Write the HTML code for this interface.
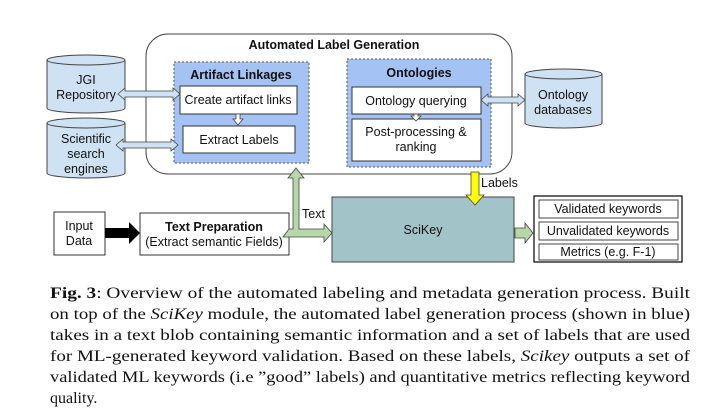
<!DOCTYPE html>
<html><head><meta charset="utf-8"><style>
html,body{margin:0;padding:0;background:#fff;}
svg{display:block;}
.s{font-family:"Liberation Sans",sans-serif;font-size:12.5px;fill:#111;}
.b{font-weight:bold;}
.c{font-family:"Liberation Serif",serif;font-size:16px;fill:#111;}
</style></head><body>
<svg width="702" height="419" viewBox="0 0 702 419" xmlns="http://www.w3.org/2000/svg">
<defs>
<marker id="n" markerWidth="1" markerHeight="1"></marker>
</defs>
<!-- big container -->
<rect x="146" y="34" width="366" height="140" rx="22" fill="#fff" stroke="#444" stroke-width="1"/>
<text x="334" y="49" text-anchor="middle" class="s b">Automated Label Generation</text>
<!-- Artifact Linkages -->
<rect x="174" y="62" width="135" height="101" fill="#a4c2f4" stroke="#555" stroke-dasharray="2,2"/>
<text x="241" y="79" text-anchor="middle" class="s b">Artifact Linkages</text>
<rect x="180" y="86" width="117" height="28" fill="#fff" stroke="#333"/>
<text x="238" y="104" text-anchor="middle" class="s">Create artifact links</text>
<rect x="183" y="126" width="112" height="27" fill="#fff" stroke="#333"/>
<text x="239" y="144" text-anchor="middle" class="s">Extract Labels</text>
<path d="M236 114 h4 v5 h3 l-5 6 l-5 -6 h3z" fill="#fff" stroke="#444" stroke-width="0.8"/>
<!-- Ontologies -->
<rect x="347" y="59" width="144" height="108" fill="#a4c2f4" stroke="#555" stroke-dasharray="2,2"/>
<text x="419" y="77" text-anchor="middle" class="s b">Ontologies</text>
<rect x="352" y="87" width="129" height="27" fill="#fff" stroke="#333"/>
<text x="416" y="105" text-anchor="middle" class="s">Ontology querying</text>
<rect x="352" y="119" width="129" height="42" fill="#fff" stroke="#333"/>
<text x="416" y="136" text-anchor="middle" class="s">Post-processing &amp;</text>
<text x="416" y="151" text-anchor="middle" class="s">ranking</text>
<path d="M414 114 h4 v2 h3 l-5 5 l-5 -5 h3z" fill="#fff" stroke="#444" stroke-width="0.8"/>
<!-- cylinders -->
<g fill="#cfe2f3" stroke="#444">
<path d="M47 60 v48 a39 5 0 0 0 78 0 v-48"/>
<ellipse cx="86" cy="60" rx="39" ry="5"/>
<path d="M47 123 v50 a39 5 0 0 0 78 0 v-50"/>
<ellipse cx="86" cy="123" rx="39" ry="5"/>
<path d="M525 74 v49 a38.5 5 0 0 0 77 0 v-49"/>
<ellipse cx="563.5" cy="74" rx="38.5" ry="5"/>
</g>
<text x="86" y="84" text-anchor="middle" class="s">JGI</text>
<text x="86" y="99" text-anchor="middle" class="s">Repository</text>
<text x="86" y="143" text-anchor="middle" class="s">Scientific</text>
<text x="86" y="158" text-anchor="middle" class="s">search</text>
<text x="86" y="173" text-anchor="middle" class="s">engines</text>
<text x="563" y="99" text-anchor="middle" class="s">Ontology</text>
<text x="563" y="114" text-anchor="middle" class="s">databases</text>
<!-- double arrows -->
<g fill="#cfe2f3" stroke="#444" stroke-width="0.8">
<path d="M118 94 l7 -6 v3 h48 v-3 l7 6 l-7 6 v-3 h-48 v3z"/>
<path d="M116 145 l7 -6 v3 h48 v-3 l7 6 l-7 6 v-3 h-48 v3z"/>
<path d="M481 100 l7 -6 v3 h30 v-3 l7 6 l-7 6 v-3 h-30 v3z"/>
</g>
<!-- Input -->
<rect x="54" y="212" width="51" height="43" fill="#fff" stroke="#333"/>
<text x="79" y="230" text-anchor="middle" class="s">Input</text>
<text x="79" y="245" text-anchor="middle" class="s">Data</text>
<path d="M105 228 h24 v-6 l11 11 l-11 11 v-6 h-24z" fill="#000"/>
<rect x="140" y="213" width="149" height="42" fill="#fff" stroke="#333"/>
<text x="214" y="231" text-anchor="middle" class="s b">Text Preparation</text>
<text x="214" y="246" text-anchor="middle" class="s">(Extract semantic Fields)</text>
<!-- green arrows -->
<path d="M289 229 h4 v-51 h-5 l8 -10 l8 10 h-5 v51 h25 v-5 l8 9 l-8 9 v-5 h-41z" fill="#b6d7a8" stroke="#444" stroke-width="0.8"/>
<text x="302" y="218" class="s">Text</text>
<rect x="332" y="197" width="182" height="65" fill="#a2c4c9" stroke="#444"/>
<text x="423" y="234" text-anchor="middle" class="s">SciKey</text>
<path d="M471 172 h8 v23 h5 l-9 10 l-9 -10 h5z" fill="#ffff00" stroke="#444" stroke-width="0.8"/>
<text x="481" y="187" class="s">Labels</text>
<path d="M515 228 h10 v-5 l8 10 l-8 10 v-5 h-10z" fill="#b6d7a8" stroke="#444" stroke-width="0.8"/>
<!-- outputs -->
<rect x="534" y="196" width="148" height="66" fill="#fff" stroke="#000" stroke-width="1.2"/>
<g fill="#fff" stroke="#444"><rect x="539" y="200" width="139" height="18"/><rect x="539" y="222" width="139" height="18"/><rect x="539" y="244" width="139" height="16"/></g>
<text x="608" y="213" text-anchor="middle" class="s">Validated keywords</text>
<text x="608" y="235" text-anchor="middle" class="s">Unvalidated keywords</text>
<text x="608" y="256" text-anchor="middle" class="s">Metrics (e.g. F-1)</text>
<!-- caption -->
<text x="50" y="298" class="c" textLength="640" lengthAdjust="spacingAndGlyphs"><tspan font-weight="bold">Fig. 3</tspan>: Overview of the automated labeling and metadata generation process. Built</text>
<text x="50" y="319" class="c" textLength="640" lengthAdjust="spacingAndGlyphs">on top of the <tspan font-style="italic">SciKey</tspan> module, the automated label generation process (shown in blue)</text>
<text x="50" y="340" class="c" textLength="640" lengthAdjust="spacingAndGlyphs">takes in a text blob containing semantic information and a set of labels that are used</text>
<text x="50" y="361" class="c" textLength="640" lengthAdjust="spacingAndGlyphs">for ML-generated keyword validation. Based on these labels, <tspan font-style="italic">Scikey</tspan> outputs a set of</text>
<text x="50" y="382" class="c" textLength="640" lengthAdjust="spacingAndGlyphs">validated ML keywords (i.e ”good” labels) and quantitative metrics reflecting keyword</text>
<text x="50" y="403" class="c">quality.</text>
</svg>
</body></html>
